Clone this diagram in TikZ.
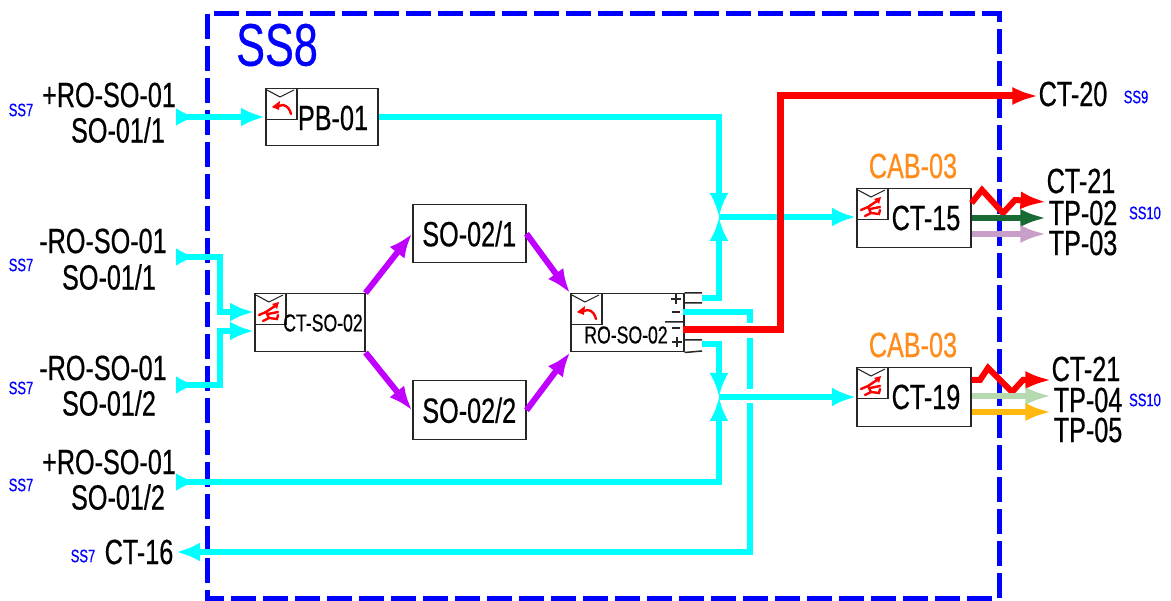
\documentclass[tikz,border=0pt]{standalone}
\usepackage{fontspec}
\setmainfont[FakeStretch=0.72,FakeBold=0.5]{Liberation Sans}
\usetikzlibrary{arrows.meta}
\definecolor{cy}{HTML}{00FFFF}
\definecolor{pur}{HTML}{BF00FF}
\definecolor{rd}{HTML}{FF0000}
\definecolor{bl}{HTML}{0000FF}
\definecolor{og}{HTML}{FF8C1A}
\definecolor{dgreen}{HTML}{196B35}
\definecolor{mauve}{HTML}{C89FC9}
\definecolor{lgreen}{HTML}{B5DAB0}
\definecolor{amber}{HTML}{FFB90F}
\newcommand{\fs}[1]{\fontsize{#1}{#1}\selectfont}
\tikzset{
 boxn/.style={draw=black!85,line width=1.5pt,anchor=north west,inner sep=0pt,fill=white},
 ibox/.style={draw=black!85,line width=1.5pt,anchor=north west,inner sep=0pt,minimum width=31pt,minimum height=31pt},
 bigt/.style={inner sep=0pt,font=\fs{35}},
 midt/.style={inner sep=0pt,font=\fs{24.5}},
 tagt/.style={inner sep=0pt,font=\fs{18},text=bl},
 cabt/.style={inner sep=0pt,font=\fs{35},text=og},
 wire/.style={line width=6pt,line join=miter},
 cyanw/.style={wire,draw=cy,-{Latex[length=24pt,width=19pt]}},
 cyans/.style={wire,draw=cy,{Latex[reversed,length=20pt,width=18pt]}-{Latex[length=24pt,width=19pt]}},
 cyanl/.style={wire,draw=cy,{Latex[length=24pt,width=19pt]}-},
 purw/.style={wire,draw=pur,-{Latex[length=24pt,width=19pt]}},
 outw/.style={wire,-{Latex[length=26pt,width=18pt]}},
 framel/.style={draw=bl,line width=5pt,dash pattern=on 25pt off 7pt},
 lnk/.style={draw=black!85,line width=1.5pt},
 figl/.style={draw=rd,line width=2.4pt,line cap=round},
}
\newcommand{\envflap}[1]{\draw[lnk,line width=1.1pt] ([shift={(2pt,-2pt)}]#1.north west) -- ([shift={(15pt,-9pt)}]#1.north west) -- ([shift={(29pt,-2pt)}]#1.north west);}
\newcommand{\curlarrow}[1]{\begin{scope}[shift={(#1.north west)}]
 \draw[figl] (9,19)--(18,17) .. controls (23,18) and (25,22) .. (26,26);
 \fill[rd] (7,19)--(15,13)--(14,22)--cycle;
 \end{scope}}
\newcommand{\runner}[1]{\begin{scope}[shift={(#1.north west)}]
 \draw[figl] (5,22)--(12,19)--(15,25)--(9,28) (12,19)--(21,13) (15,25)--(23,26)--(24,22) (14,21)--(24,19);
 \fill[rd] (18,11)--(25,9)--(23,16)--cycle;
 \end{scope}}
\begin{document}
\begin{tikzpicture}[x=1pt,y=-1pt]
\useasboundingbox (0,0) rectangle (1171,601);
\fill[white] (0,0) rectangle (1171,601);
% frame
\coordinate (fa) at (207,14); \coordinate (fb) at (999,598);
\draw[framel] (fa) rectangle (fb);
% boxes
\node[boxn,minimum width=112pt,minimum height=57pt] (pb) at (265,88) {};
\node[boxn,minimum width=110pt,minimum height=58pt] (cts) at (254,293) {};
\node[boxn,minimum width=113pt,minimum height=58pt] (so1) at (412,204) {\fs{35}SO-02/1};
\node[boxn,minimum width=113pt,minimum height=59pt] (so2) at (412,380) {\fs{35}SO-02/2};
\node[boxn,minimum width=113pt,minimum height=58pt] (ro) at (570,293) {};
\node[boxn,minimum width=114pt,minimum height=59pt] (c15) at (856,188) {};
\node[boxn,minimum width=114pt,minimum height=59pt] (c19) at (856,367) {};
\node[ibox] (ipb) at (265,88) {};
\node[ibox] (icts) at (254,293) {};
\node[ibox] (iro) at (570,293) {};
\node[ibox] (ic15) at (856,188) {};
\node[ibox] (ic19) at (856,367) {};
\envflap{ipb}\envflap{icts}\envflap{iro}\envflap{ic15}\envflap{ic19}
\curlarrow{ipb}\curlarrow{iro}
\runner{icts}\runner{ic15}\runner{ic19}
% ro ports
\coordinate (p1a) at (702,293); \coordinate (p1b) at (702,303);
\coordinate (p2a) at (702,340); \coordinate (p2b) at (702,351);
\coordinate (rom) at (665,322);
\draw[lnk] (ro.north east) -- (p1a) (683,303) -- (p1b) (683,340) -- (p2a) (ro.south east) -- (p2b) (rom) -- (683,322);
\draw[lnk,line width=2pt] (676,294)--(676,304) (671,299)--(681,299) (677,337)--(677,347) (672,342)--(682,342) (672,312)--(680,312) (672,328)--(680,328);
% text
\node[bigt] (tpb) at (333,118) {PB-01};
\node[midt] (tcts) at (323,323) {CT-SO-02};
\node[midt] (tro) at (626,335) {RO-SO-02};
\node[bigt] (t15) at (926,218) {CT-15};
\node[bigt] (t19) at (926,397) {CT-19};
\node[inner sep=0pt,font=\fs{60},text=bl] (ss8) at (277,45) {SS8};
\node[cabt] (cab1) at (913,166) {CAB-03};
\node[cabt] (cab2) at (913,345) {CAB-03};
\node[bigt] (l1) at (109,95) {+RO-SO-01};
\node[bigt] (l2) at (118,130) {SO-01/1};
\node[bigt] (l3) at (103,241) {-RO-SO-01};
\node[bigt] (l4) at (109,277) {SO-01/1};
\node[bigt] (l5) at (103,368) {-RO-SO-01};
\node[bigt] (l6) at (109,403) {SO-01/2};
\node[bigt] (l7) at (109,462) {+RO-SO-01};
\node[bigt] (l8) at (118,497) {SO-01/2};
\node[bigt] (l9) at (139,552) {CT-16};
\node[tagt] (s1) at (21,110) {SS7};
\node[tagt] (s2) at (21,265) {SS7};
\node[tagt] (s3) at (21,388) {SS7};
\node[tagt] (s4) at (21,485) {SS7};
\node[tagt] (s5) at (83,556) {SS7};
\node[tagt] (s6) at (1136,97) {SS9};
\node[tagt] (s7) at (1145,213) {SS10};
\node[tagt] (s8) at (1145,400) {SS10};
\node[bigt] (r0) at (1073,94) {CT-20};
\node[bigt] (r1) at (1081,181) {CT-21};
\node[bigt] (r2) at (1083,213) {TP-02};
\node[bigt] (r3) at (1083,243) {TP-03};
\node[bigt] (r4) at (1086,369) {CT-21};
\node[bigt] (r5) at (1088,400) {TP-04};
\node[bigt] (r6) at (1088,430) {TP-05};
% free ends
\coordinate (a1) at (176,117);
\coordinate (a2) at (176,257);
\coordinate (a3) at (176,385);
\coordinate (a4) at (176,482);
\coordinate (a5) at (176,552);
\coordinate (j1) at (719,217);
\coordinate (j2) at (719,397);
% t-line with gaps
\draw[cyanl] (a5) -- (750,552) -- (750,312) -- (683,312);
\draw[white,line width=9pt] (750,323) -- (750,338) (750,389) -- (750,403);
% cyan
\draw[cyans] (a1) -- (pb.west |- a1);
\draw[cyans] (a2) -- (220,257) -- (220,312) -- (254,312);
\draw[cyans] (a3) -- (220,385) -- (220,331) -- (254,331);
\draw[cyanw] (pb.east |- a1) -- (719,117) -- (j1);
\draw[cyanw] (702,298) -- (719,298) -- (j1);
\draw[cyanw] (702,344) -- (719,344) -- (j2);
\draw[cyans] (a4) -- (719,482) -- (j2);
\draw[cyanw] (j1) -- (c15.west |- j1);
\draw[cyanw] (j2) -- (c19.west |- j2);
% purple
\draw[purw] (cts.north east) -- (so1.west);
\draw[purw] (cts.south east) -- (so2.west);
\draw[purw] (so1.east) -- (ro.north west);
\draw[purw] (so2.east) -- (ro.south west);
% red
\draw[outw,draw=rd,line width=7pt] (683,330) -- (780,330) -- (780,96) -- (r0.west |- 0,96);
\draw[outw,draw=rd] (c15.east |- 0,203) -- (982,190) -- (1003,213) -- (1015,200) -- (r1.west |- 0,202);
\draw[outw,draw=dgreen] (c15.east |- 0,218) -- (r1.west |- 0,218);
\draw[outw,draw=mauve] (c15.east |- 0,234) -- (r1.west |- 0,234);
\draw[outw,draw=rd] (c19.east |- 0,380) -- (980,380) -- (988,368) -- (1003,383) -- (1012,392) -- (1023,380) -- (r4.west |- 0,380);
\draw[outw,draw=lgreen] (c19.east |- 0,396) -- (r4.west |- 0,396);
\draw[outw,draw=amber] (c19.east |- 0,412) -- (r4.west |- 0,412);
\end{tikzpicture}
\end{document}
